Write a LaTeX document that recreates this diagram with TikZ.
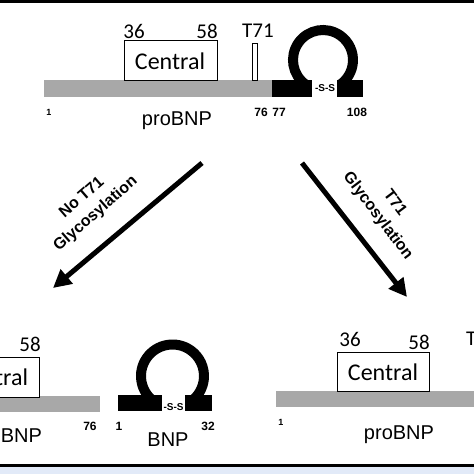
\documentclass[tikz,border=0pt]{standalone}
\usepackage{fontspec}
\setmainfont{Liberation Sans}
\newfontfamily\cali{Carlito}
\usetikzlibrary{arrows.meta}
\definecolor{barfill}{HTML}{A8A8A8}
\definecolor{panelblue}{HTML}{E2EAF8}
\begin{document}
\begin{tikzpicture}[
  x=1pt, y=1pt,
  pro/.style={fill=barfill, draw=none},
  bnp/.style={fill=black, draw=none},
  cbox/.style={draw, thick, fill=white},
  ctext/.style={font=\cali\fontsize{24}{24}\selectfont, inner sep=0pt},
  num/.style={font=\cali\fontsize{21}{21}\selectfont, inner sep=0pt},
  resnum/.style={font=\bfseries\fontsize{12}{12}\selectfont, inner sep=0pt},
  one/.style={font=\bfseries\fontsize{9}{9}\selectfont, inner sep=0pt},
  ss/.style={font=\bfseries\fontsize{10}{10}\selectfont, inner sep=0pt},
  pname/.style={font=\fontsize{20}{20}\selectfont, inner sep=0pt},
  omega/.style={line width=10pt},
  arr/.style={line width=5pt, -{Triangle[length=18pt,width=18pt]}},
  lbl/.style={font=\bfseries\fontsize{16}{21}\selectfont, align=center, inner sep=0pt}
]
\useasboundingbox (0,0) rectangle (474,-474);
\clip (0,0) rectangle (474,-474);
% frame
\fill (0,0) rectangle (474,-3);
\fill (0,-464) rectangle (474,-467);
\fill[panelblue] (0,-467) rectangle (474,-474);

% top: proBNP 1-108
\fill[pro] (44,-80) rectangle (272,-97);
\fill[bnp] (272,-80) rectangle (312,-97);
\fill[bnp] (337,-80) rectangle (363,-97);
\draw[omega] (323,-60) ++(235:30) arc[start angle=235, end angle=-55, radius=30];
\node[ss] (ssA) at (325,-88) {-S-S};
\draw[cbox] (124,-40) rectangle (217,-80);
\node[ctext] (cenA) at (170,-61) {Central};
\node[num] (n36A) at (134,-31) {36};
\node[num] (n58A) at (207,-31) {58};
\draw[fill=white] (252,-43) rectangle (257,-80);
\node[num] (t71A) at (258,-31) {T71};
\node[one] (p1A) at (49,-112) {1};
\node[resnum] (p76A) at (261,-112) {76};
\node[resnum] (p77A) at (279,-112) {77};
\node[resnum] (p108A) at (357,-112) {108};
\node[pname] (proA) at (177,-121) {proBNP};

% arrows
\coordinate (la) at (202,-163);
\coordinate (lb) at (53,-288);
\coordinate (ra) at (302,-163);
\coordinate (rb) at (407,-297);
\draw[arr] (la) -- (lb);
\draw[arr] (ra) -- (rb);
\node[lbl, rotate=41] (noglyc) at (89,-206) {No T71\\Glycosylation};
\node[lbl, rotate=-53] (glyc) at (386,-210) {T71\\Glycosylation};

% bottom left: proBNP 1-76 and BNP 1-32
\fill[pro] (-200,-396) rectangle (100,-412);
\draw[cbox] (-54,-357) rectangle (39,-397);
\node[ctext] (cenB) at (-7,-377) {Central};
\node[num] (n58B) at (30,-344) {58};
\node[resnum] (p76B) at (90,-426) {76};
\node[pname] (proB) at (7,-438) {proBNP};
\fill[bnp] (118,-395) rectangle (162,-411);
\fill[bnp] (185,-395) rectangle (212,-411);
\draw[omega] (172.5,-376) ++(235:31.5) arc[start angle=235, end angle=-55, radius=31.5];
\node[ss] (ssB) at (173.5,-407) {-S-S};
\node[resnum] (p1B) at (119,-426) {1};
\node[resnum] (p32B) at (208,-426) {32};
\node[pname] (bnpB) at (168,-440) {BNP};

% bottom right: glycosylated proBNP
\fill[pro] (276,-391) rectangle (500,-407);
\draw[cbox] (337,-352) rectangle (429,-391);
\node[ctext] (cenC) at (383,-372) {Central};
\node[num] (n36C) at (350,-339) {36};
\node[num] (n58C) at (419,-342) {58};
\node[num, anchor=west] (t71C) at (466,-339) {T71};
\node[one] (p1C) at (281,-422) {1};
\node[pname] (proC) at (399,-435) {proBNP};
\end{tikzpicture}
\end{document}
